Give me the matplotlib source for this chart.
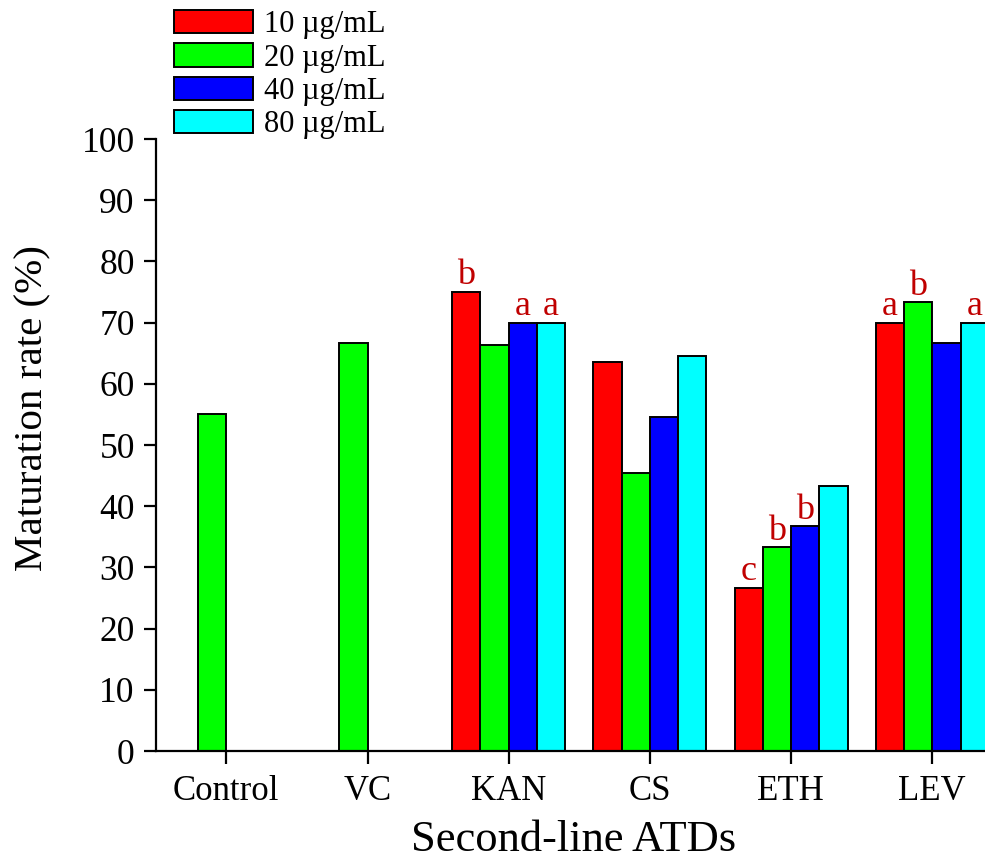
import numpy as np
import matplotlib
matplotlib.use("Agg")
import matplotlib.pyplot as plt

plt.rcParams['font.family'] = ['Liberation Serif', 'DejaVu Serif']

categories = ["Control", "VC", "KAN", "CS", "ETH", "LEV"]
series_names = ["10 \u00b5g/mL", "20 \u00b5g/mL", "40 \u00b5g/mL", "80 \u00b5g/mL"]
nan = np.nan
s10 = [nan, nan, 75.0, 63.6, 26.7, 70.0]
s20 = [55.0, 66.7, 66.4, 45.5, 33.3, 73.3]
s40 = [nan, nan, 70.0, 54.5, 36.7, 66.7]
s80 = [nan, nan, 70.0, 64.5, 43.3, 70.0]
letters10 = ["", "", "b", "", "c", "a"]
letters20 = ["", "", "", "", "b", "b"]
letters40 = ["", "", "a", "", "b", ""]
letters80 = ["", "", "a", "", "", "a"]
yticks = [0, 10, 20, 30, 40, 50, 60, 70, 80, 90, 100]

colors = ["#FF0000", "#00FF00", "#0000FF", "#00FFFF"]
series = [s10, s20, s40, s80]
letters = [letters10, letters20, letters40, letters80]

W, H = 985, 861
fig = plt.figure(figsize=(W / 100, H / 100), dpi=100)
left = 155.7 / W
bottom = (H - 751) / H
top = (H - 139) / H
width = (6 * 141.2) / W
ax = fig.add_axes([left, bottom, width, top - bottom])

x = np.arange(1, len(categories) + 1)
bw = 0.2
offsets = [-0.3, -0.1, 0.1, 0.3]
handles = []
for vals, col, off, name, labs in zip(series, colors, offsets, series_names, letters):
    b = ax.bar(x + off, vals, width=bw, color=col, edgecolor="black",
               linewidth=1.4, label=name)
    handles.append(b)
    for xi, v, lab in zip(x, vals, labs):
        if lab and not np.isnan(v):
            ax.annotate(lab, (xi + off, v), xytext=(0, 5.5), textcoords="offset points",
                        ha="center", va="baseline", fontsize=26, color="#C00000")

ax.set_xlim(0.5, 6.5)
ax.set_ylim(0, 100)
ax.set_xticks(x)
ax.set_xticklabels(categories, fontsize=25)
ax.set_yticks(yticks)
ax.set_yticklabels([str(t) for t in yticks], fontsize=25.5)
for s in ["top", "right"]:
    ax.spines[s].set_visible(False)
for s in ["left", "bottom"]:
    ax.spines[s].set_linewidth(1.6)
ax.tick_params(axis="both", direction="out", length=9, width=1.6)
ax.tick_params(axis="y", pad=6)
ax.tick_params(axis="x", pad=8)

fig.text(33 / W, 1 - 408 / H, "Maturation rate (%)", rotation=90, fontsize=29.5,
         ha="center", va="center")
fig.text(574 / W, 1 - 840 / H, "Second-line ATDs", fontsize=32, ha="center", va="center")

leg = fig.legend(handles=handles, labels=series_names, loc="upper left",
                 bbox_to_anchor=(174 / W, 1 - 10 / H), frameon=False, fontsize=22,
                 handlelength=2.6, handleheight=0.8, handletextpad=0.35,
                 labelspacing=0.13, borderpad=0, borderaxespad=0)

fig.savefig("out.png", dpi=100)
